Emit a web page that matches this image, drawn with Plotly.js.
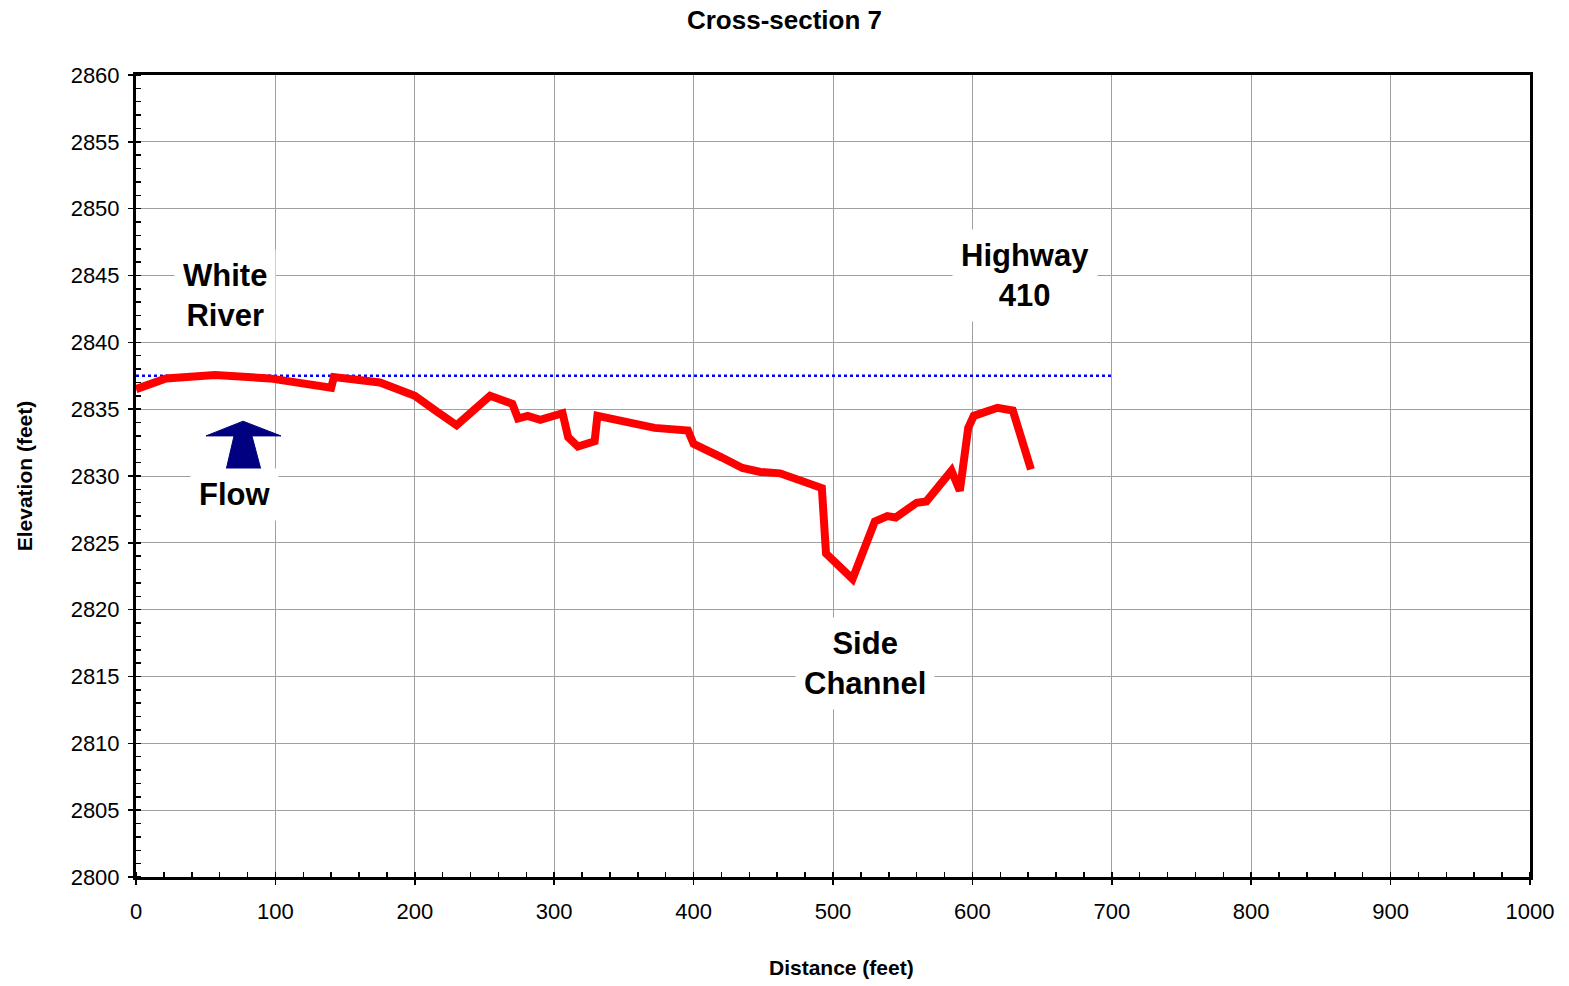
<!DOCTYPE html>
<html>
<head>
<meta charset="utf-8">
<script src="https://cdn.plot.ly/plotly-3.0.1.min.js"></script>
<style>html,body{margin:0;padding:0;background:#fff;}#chart{width:1569px;height:986px;}</style>
</head>
<body>
<div id="chart"></div>
<script>
const distance = [0, 21.5, 56.7, 96, 140, 142, 175, 200, 216, 230, 242, 254, 270, 274, 281, 290, 306, 310, 317, 329, 331, 372, 396, 400, 420, 435, 448, 462, 492, 495, 514, 530, 539, 545, 560, 567, 585, 591, 597, 601, 618, 629, 642];
const elevation = [2836.5, 2837.3, 2837.55, 2837.3, 2836.6, 2837.4, 2837.0, 2836.0, 2834.8, 2833.8, 2834.9, 2836.0, 2835.4, 2834.3, 2834.5, 2834.2, 2834.7, 2832.9, 2832.2, 2832.6, 2834.5, 2833.6, 2833.4, 2832.4, 2831.4, 2830.6, 2830.3, 2830.2, 2829.1, 2824.2, 2822.3, 2826.6, 2827.0, 2826.9, 2828.0, 2828.1, 2830.4, 2828.9, 2833.6, 2834.5, 2835.1, 2834.9, 2830.5];
const waterX = [0, 700];
const waterY = [2837.5, 2837.5];
const labels = ["White<br>River", "Flow", "Highway<br>410", "Side<br>Channel"];
const labelX = [64, 71, 638, 523];
const labelY = [2843.5, 2828.65, 2845.0, 2816.0];

const FONT = "Liberation Sans, Arial, sans-serif";

const traces = [
  {x: waterX, y: waterY, mode: 'lines', line: {color: '#0000ff', width: 2.5, dash: 'dot'}, hoverinfo: 'skip'},
  {x: distance, y: elevation, mode: 'lines', line: {color: '#ff0000', width: 8, shape: 'linear'}}
];

const annotations = labels.map((t, i) => ({
  x: labelX[i], y: labelY[i], xref: 'x', yref: 'y', text: '<b>' + t + '</b>', showarrow: false,
  font: {family: FONT, size: 31, color: '#000'}, bgcolor: '#ffffff', borderpad: 8
}));
annotations.push({
  xref: 'paper', yref: 'paper', x: 0.506, y: -0.113, xanchor: 'center', yanchor: 'middle', showarrow: false,
  text: '<b>Distance (feet)</b>', font: {family: FONT, size: 21, color: '#000'}
});

const layout = {
  width: 1569, height: 986,
  margin: {l: 136, r: 39, t: 75, b: 109},
  paper_bgcolor: '#fff', plot_bgcolor: '#fff',
  showlegend: false,
  font: {family: FONT, color: '#000'},
  title: {text: '<b>Cross-section 7</b>', font: {family: FONT, size: 26, color: '#000'}, x: 0.5, xanchor: 'center', yref: 'container', y: 0.9797, yanchor: 'middle'},
  xaxis: {
    range: [0, 1000], dtick: 100, tick0: 0, showgrid: true, gridcolor: '#a0a0a0', gridwidth: 1,
    showline: true, linecolor: '#000', linewidth: 3, mirror: true, zeroline: false,
    ticks: 'outside', ticklen: 5, tickwidth: 1.5, tickcolor: '#000', ticklabelstandoff: 8,
    tickfont: {family: FONT, size: 22, color: '#000'},
    minor: {ticks: 'inside', dtick: 20, ticklen: 5, tickwidth: 1.5, tickcolor: '#000', showgrid: false}
  },
  yaxis: {
    range: [2800, 2860], dtick: 5, tick0: 2800, showgrid: true, gridcolor: '#a0a0a0', gridwidth: 1,
    showline: true, linecolor: '#000', linewidth: 3, mirror: true, zeroline: false,
    ticks: 'outside', ticklen: 5, tickwidth: 1.5, tickcolor: '#000', ticklabelstandoff: 4,
    tickfont: {family: FONT, size: 22, color: '#000'},
    minor: {ticks: 'inside', dtick: 1, ticklen: 5, tickwidth: 1.5, tickcolor: '#000', showgrid: false},
    title: {text: '<b>Elevation (feet)</b>', font: {family: FONT, size: 21, color: '#000'}, standoff: 33}
  },
  annotations: annotations,
  shapes: [{
    type: 'path', xref: 'x', yref: 'y',
    path: 'M 50.2 2833.0 L 76.8 2834.1 L 104 2833.0 L 83.2 2833.0 L 89.7 2830.45 L 64.6 2830.45 L 70.3 2833.0 Z',
    fillcolor: '#000080', line: {color: '#000080', width: 1}, layer: 'above'
  }]
};

Plotly.newPlot('chart', traces, layout, {displayModeBar: false, staticPlot: true});
</script>
</body>
</html>
